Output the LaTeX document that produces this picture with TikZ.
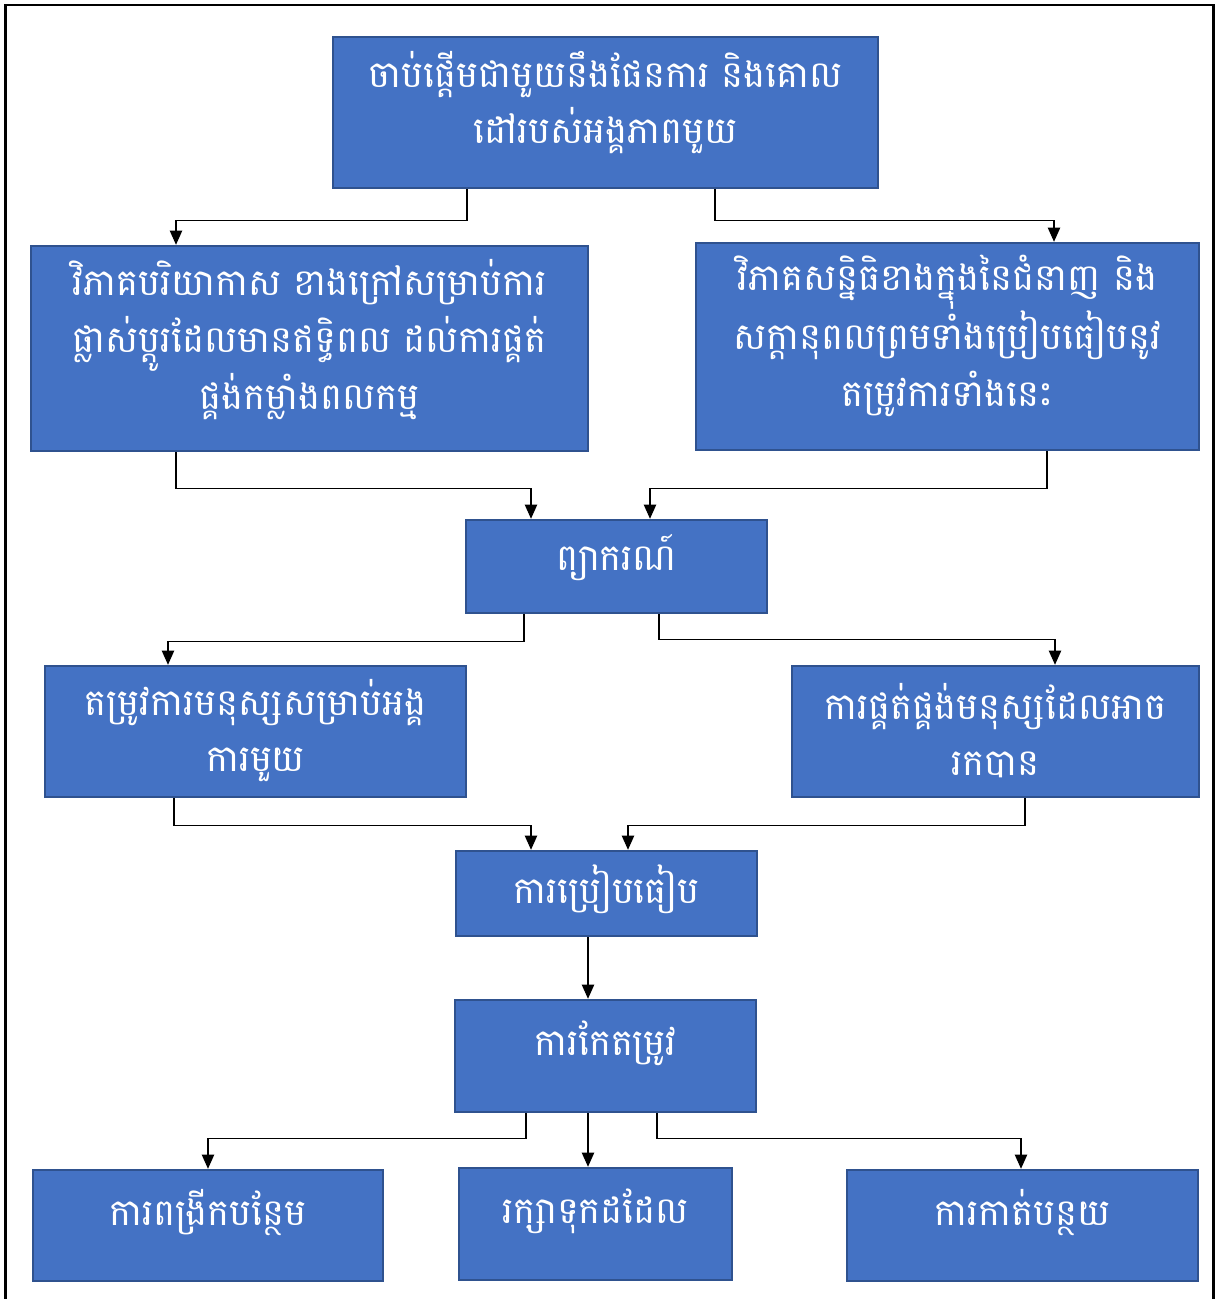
\documentclass[tikz,border=0pt]{standalone}
\usepackage{fontspec}
\newfontfamily\khmer[Script=Khmer]{Battambang}
\usetikzlibrary{arrows.meta,fit,calc}
\definecolor{boxblue}{HTML}{4472C4}
\definecolor{boxedge}{HTML}{2F528F}
\tikzset{
	box/.style={draw=boxedge, fill=boxblue, line width=1.4pt, inner sep=0pt},
	txt/.style={text=white, font=\khmer\fontsize{21}{32.3}\selectfont, align=center},
	link/.style={line width=0.6pt, -{Triangle[width=7pt,length=8pt]}},
}

\begin{document}
\begin{tikzpicture}[x=0.02cm, y=-0.02cm]
	\useasboundingbox (0,0) rectangle (1216,1299);
	\draw[line width=1.7pt] (5.5,1299) -- (5.5,5) -- (1213,5) -- (1213,1299);

	\node[box, fit={(333,37) (878,188)}] (plan) {};
	\node[box, fit={(31,246) (588,451)}] (extern) {};
	\node[box, fit={(696,243) (1199,450)}] (intern) {};
	\node[box, fit={(466,520) (767,613)}] (forecast) {};
	\node[box, fit={(45,666) (466,797)}] (demand) {};
	\node[box, fit={(792,666) (1199,797)}] (supply) {};
	\node[box, fit={(456,851) (757,936)}] (compare) {};
	\node[box, fit={(455,1000) (756,1112)}] (adjust) {};
	\node[box, fit={(33,1170) (383,1281)}] (expand) {};
	\node[box, fit={(459,1168) (732,1280)}] (keep) {};
	\node[box, fit={(847,1170) (1198,1281)}] (reduce) {};

	\node[txt] (plan-t) at ($(plan.center)+(0,-10)$) {ចាប់ផ្តើមជាមួយនឹងផែនការ និងគោល\\ដៅរបស់អង្គភាពមួយ};
	\node[txt] (extern-t) at ($(extern.center)+(0,-9)$) {វិភាគបរិយាកាស ខាងក្រៅសម្រាប់ការ\\ផ្លាស់ប្តូរដែលមានឥទ្ធិពល ដល់ការផ្គត់\\ផ្គង់កម្លាំងពលកម្ម};
	\node[txt] (intern-t) at ($(intern.center)+(0,-11)$) {វិភាគសន្និធិខាងក្នុងនៃជំនាញ និង\\សក្តានុពលព្រមទាំងប្រៀបធៀបនូវ\\តម្រូវការទាំងនេះ};
	\node[txt] (forecast-t) at ($(forecast.center)+(0,-9)$) {ព្យាករណ៍};
	\node[txt] (demand-t) at ($(demand.center)+(0,-1)$) {តម្រូវការមនុស្សសម្រាប់អង្គ\\ការមួយ};
	\node[txt] (supply-t) at ($(supply.center)+(0,-1)$) {ការផ្គត់ផ្គង់មនុស្សដែលអាច\\រកបាន};
	\node[txt] (compare-t) at ($(compare.center)+(0,-4)$) {ការប្រៀបធៀប};
	\node[txt] (adjust-t) at ($(adjust.center)+(0,-13)$) {ការកែតម្រូវ};
	\node[txt] (expand-t) at ($(expand.center)+(0,-13)$) {ការពង្រីកបន្ថែម};
	\node[txt] (keep-t) at ($(keep.center)+(0,-13)$) {រក្សាទុកដដែល};
	\node[txt] (reduce-t) at ($(reduce.center)+(0,-13)$) {ការកាត់បន្ថយ};

	% plan -> analyses
	\draw[link] (plan.south -| 467,0) -- ++(0,31) -| (extern.north -| 176,0);
	\draw[link] (plan.south -| 715,0) -- ++(0,31) -| (intern.north -| 1054,0);
	% analyses -> forecast
	\draw[link] (extern.south -| 176,0) -- ++(0,36) -| (forecast.north -| 531,0);
	\draw[link] (intern.south -| 1047,0) -- ++(0,37) -| (forecast.north -| 650,0);
	% forecast -> demand, supply
	\draw[link] (forecast.south -| 524,0) -- ++(0,27) -| (demand.north -| 168,0);
	\draw[link] (forecast.south -| 659,0) -- ++(0,25) -| (supply.north -| 1055,0);
	% demand, supply -> compare
	\draw[link] (demand.south -| 174,0) -- ++(0,27) -| (compare.north -| 531,0);
	\draw[link] (supply.south -| 1025,0) -- ++(0,27) -| (compare.north -| 628,0);
	\draw[link] (compare.south -| 588,0) -- (adjust.north -| 588,0);
	% adjust -> outcomes
	\draw[link] (adjust.south -| 526,0) -- ++(0,25) -| (expand.north -| 208,0);
	\draw[link] (adjust.south -| 588,0) -- (keep.north -| 588,0);
	\draw[link] (adjust.south -| 657,0) -- ++(0,25) -| (reduce.north -| 1021,0);
\end{tikzpicture}
\end{document}
